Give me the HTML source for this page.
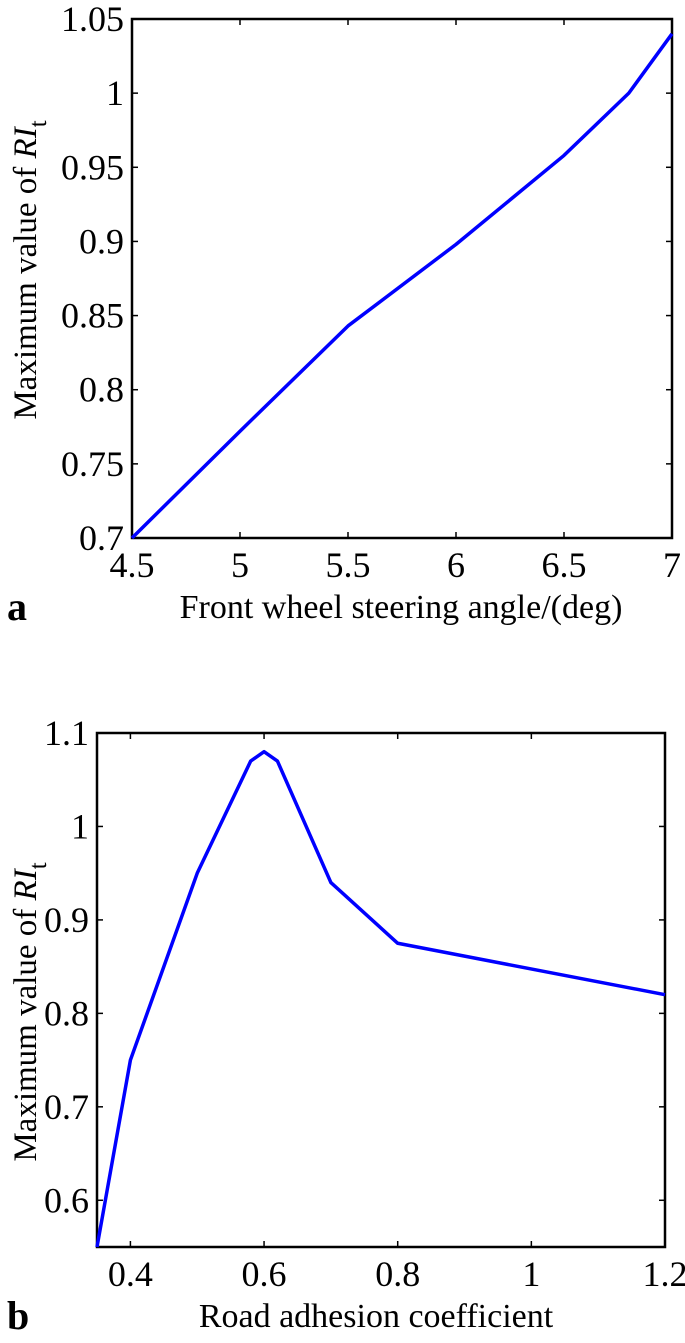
<!DOCTYPE html>
<html><head><meta charset="utf-8"><style>
body{margin:0;background:#fff;}
svg{display:block;font-family:"Liberation Serif",serif;}
</style></head><body>
<svg id="c" width="685" height="1343"></svg>
<script>
// Chart a data
const aX = [4.5, 5, 5.5, 6, 6.5, 6.8, 7];
const aY = [0.7, 0.772, 0.843, 0.898, 0.958, 1.0, 1.04];
const aXTicks = [4.5, 5, 5.5, 6, 6.5, 7];
const aXLabels = ["4.5","5","5.5","6","6.5","7"];
const aYTicks = [0.7,0.75,0.8,0.85,0.9,0.95,1,1.05];
const aYLabels = ["0.7","0.75","0.8","0.85","0.9","0.95","1","1.05"];
// Chart b data
const bX = [0.35, 0.4, 0.5, 0.58, 0.6, 0.62, 0.7, 0.8, 1.2];
const bY = [0.55, 0.75, 0.95, 1.07, 1.08, 1.07, 0.94, 0.875, 0.82];
const bXTicks = [0.4, 0.6, 0.8, 1, 1.2];
const bXLabels = ["0.4","0.6","0.8","1","1.2"];
const bYTicks = [0.6,0.7,0.8,0.9,1,1.1];
const bYLabels = ["0.6","0.7","0.8","0.9","1","1.1"];

const NS="http://www.w3.org/2000/svg";
const svg=document.getElementById('c');
function mk(t,a,p){const e=document.createElementNS(NS,t);for(const k in a)e.setAttribute(k,a[k]);(p||svg).appendChild(e);return e;}

function chart(cfg){
  const g=mk('g',{});
  
  
  const sx=v=>cfg.L+(v-cfg.x0)/(cfg.x1-cfg.x0)*(cfg.R-cfg.L);
  const sy=v=>cfg.B-(v-cfg.y0)/(cfg.y1-cfg.y0)*(cfg.B-cfg.T);
  const box=mk('rect',{x:cfg.L,y:cfg.T,width:cfg.R-cfg.L,height:cfg.B-cfg.T,fill:'none',stroke:'#000','stroke-width':2.5},g);
  
  
  cfg.xt.forEach((v,i)=>{
    const x=sx(v);
    mk('line',{x1:x,x2:x,y1:cfg.B,y2:cfg.B-6,stroke:'#000','stroke-width':1.5},g);
    mk('line',{x1:x,x2:x,y1:cfg.T,y2:cfg.T+6,stroke:'#000','stroke-width':1.5},g);
    const t=mk('text',{x:x,y:cfg.B+39,'font-size':36,'text-anchor':'middle'},g);
    t.textContent=cfg.xl[i];
    
    
  });
  cfg.yt.forEach((v,i)=>{
    const y=sy(v);
    mk('line',{x1:cfg.L,x2:cfg.L+6,y1:y,y2:y,stroke:'#000','stroke-width':1.5},g);
    mk('line',{x1:cfg.R,x2:cfg.R-6,y1:y,y2:y,stroke:'#000','stroke-width':1.5},g);
    const t=mk('text',{x:cfg.L-8,y:y+12,'font-size':36,'text-anchor':'end'},g);
    t.textContent=cfg.yl[i];
    
    
  });
  const pts=cfg.xs.map((v,i)=>sx(v)+','+sy(cfg.ys[i])).join(' ');
  const pl=mk('polyline',{points:pts,fill:'none',stroke:'#0000ff','stroke-width':3.5,'stroke-linejoin':'round'},g);
  
  
  const xl=mk('text',{x:cfg.xlx,y:cfg.B+80,'font-size':34,'text-anchor':'middle'},g);
  xl.textContent=cfg.xlabel;
  
  
  const yl=mk('text',{x:0,y:0,'font-size':33,'text-anchor':'middle',transform:`translate(36,${cfg.ylc}) rotate(-90)`},g);
  yl.innerHTML='Maximum value of <tspan font-style="italic">RI</tspan><tspan font-size="25" dy="10">t</tspan>';
  
  
  const pn=mk('text',{x:7,y:cfg.B+82,'font-size':40,'font-weight':'bold'},g);
  pn.textContent=cfg.panel;
  
  
}
chart({name:'chart-a',L:132,R:672,T:19,B:538,x0:4.5,x1:7,y0:0.7,y1:1.05,xt:aXTicks,xl:aXLabels,yt:aYTicks,yl:aYLabels,xs:aX,ys:aY,xlabel:'Front wheel steering angle/(deg)',xlx:401,ylc:270,panel:'a'});
chart({name:'chart-b',L:97,R:665,T:733,B:1247,x0:0.35,x1:1.2,y0:0.55,y1:1.1,xt:bXTicks,xl:bXLabels,yt:bYTicks,yl:bYLabels,xs:bX,ys:bY,xlabel:'Road adhesion coefficient',xlx:376,ylc:1012,panel:'b'});
</script>
</body></html>
